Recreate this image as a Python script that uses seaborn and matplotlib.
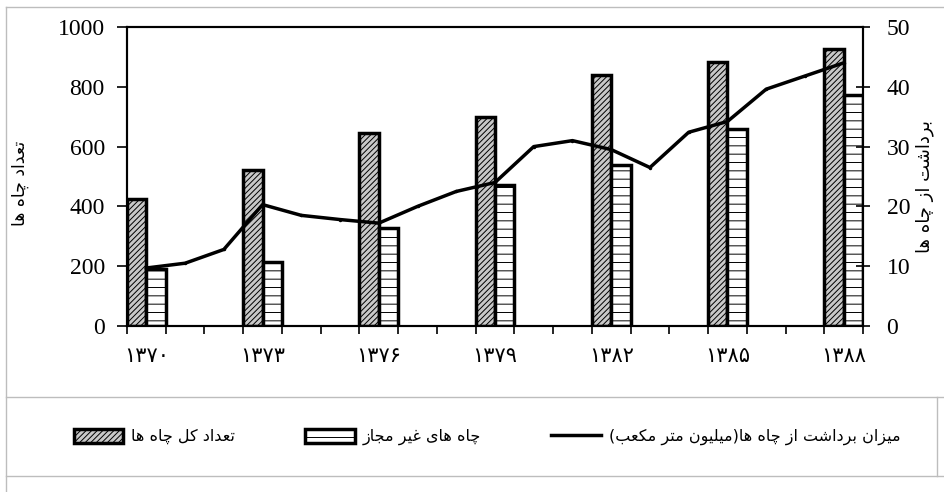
import numpy as np
import pandas as pd
import seaborn as sns
import matplotlib.pyplot as plt
from matplotlib.patches import Patch
from matplotlib.lines import Line2D

# data
years = list(range(1370, 1389))
bar_years = [1370, 1373, 1376, 1379, 1382, 1385, 1388]
total_wells = [425, 523, 645, 700, 838, 882, 928]
illegal_wells = [192, 215, 329, 470, 540, 660, 772]
withdrawal = [9.7, 10.5, 12.8, 20.3, 18.5, 17.8, 17.2, 20.0, 22.5, 24.0,
              30.0, 31.0, 29.5, 26.5, 32.4, 34.2, 39.6, 41.8, 44.0]

label_total = 'تعداد کل چاه ها'
label_illegal = 'چاه های غیر مجاز'
label_line = 'میزان برداشت از چاه ها(میلیون متر مکعب)'
ylabel_left = 'تعداد چاه ها'
ylabel_right = 'برداشت از چاه ها'

# matplotlib has no arabic shaping, so pick presentation forms by hand
FORMS = {
    'ا': ('\uFE8D', '\uFE8E', None, None), 'د': ('\uFEA9', '\uFEAA', None, None),
    'ر': ('\uFEAD', '\uFEAE', None, None), 'ز': ('\uFEAF', '\uFEB0', None, None),
    'و': ('\uFEED', '\uFEEE', None, None),
    'ب': ('\uFE8F', '\uFE90', '\uFE91', '\uFE92'), 'ت': ('\uFE95', '\uFE96', '\uFE97', '\uFE98'),
    'ج': ('\uFE9D', '\uFE9E', '\uFE9F', '\uFEA0'), 'چ': ('\uFB7A', '\uFB7B', '\uFB7C', '\uFB7D'),
    'ش': ('\uFEB5', '\uFEB6', '\uFEB7', '\uFEB8'), 'ع': ('\uFEC9', '\uFECA', '\uFECB', '\uFECC'),
    'غ': ('\uFECD', '\uFECE', '\uFECF', '\uFED0'), 'ک': ('\uFB8E', '\uFB8F', '\uFB90', '\uFB91'),
    'ل': ('\uFEDD', '\uFEDE', '\uFEDF', '\uFEE0'), 'م': ('\uFEE1', '\uFEE2', '\uFEE3', '\uFEE4'),
    'ن': ('\uFEE5', '\uFEE6', '\uFEE7', '\uFEE8'), 'ه': ('\uFEE9', '\uFEEA', '\uFEEB', '\uFEEC'),
    'ی': ('\uFBFC', '\uFBFD', '\uFBFE', '\uFBFF'),
}


def fa(text):
    out = []
    for i, ch in enumerate(text):
        if ch not in FORMS:
            out.append(ch)
            continue
        prev = text[i - 1] if i > 0 else ''
        nxt = text[i + 1] if i + 1 < len(text) else ''
        iso, fin, ini, med = FORMS[ch]
        jp = prev in FORMS and FORMS[prev][2] is not None
        jn = ini is not None and nxt in FORMS
        out.append(med if jp and jn else fin if jp else ini if jn else iso)
    return ''.join(reversed(out)).translate(str.maketrans('()', ')('))


def fa_digits(n):
    return str(n).translate(str.maketrans('0123456789', '۰۱۲۳۴۵۶۷۸۹'))


plt.rcParams['hatch.linewidth'] = 0.7
serif = ['Liberation Serif', 'DejaVu Sans']
persian = ['DejaVu Sans']

df = pd.DataFrame({
    'year': bar_years * 2,
    'count': total_wells + illegal_wells,
    'series': [label_total] * len(bar_years) + [label_illegal] * len(bar_years),
})

fig = plt.figure(figsize=(9.44, 4.92), dpi=100)
ax = fig.add_axes([127 / 944, 1 - 326 / 492, (863 - 127) / 944, (326 - 27) / 492])

sns.barplot(data=df, x='year', y='count', hue='series', order=years,
            width=1.0, gap=0, ax=ax, legend=False,
            edgecolor='black', linewidth=2.5, palette=['#c8c8c8', 'white'])
styles = [('#c8c8c8', '//////'), ('white', '--')]
for cont, (fc, hatch) in zip(ax.containers, styles):
    for bar in cont:
        bar.set_facecolor(fc)
        bar.set_hatch(hatch)

ax2 = ax.twinx()
sns.lineplot(x=np.arange(len(years)), y=withdrawal, ax=ax2, color='black',
             linewidth=2.5, marker='o', markersize=2.5, markeredgewidth=0)

ax.set_xlim(-0.5, len(years) - 0.5)
ax.set_ylim(0, 1000)
ax2.set_ylim(0, 50)

ax.set_xticks(np.arange(-0.5, len(years), 1))
ax.set_xticklabels([])
ax.tick_params(axis='x', which='major', length=6, width=1.2, direction='out')
ax.set_xticks([years.index(y) for y in bar_years], minor=True)
ax.set_xticklabels([fa_digits(y) for y in bar_years], minor=True,
                   fontfamily=serif, fontsize=15)
ax.tick_params(axis='x', which='minor', length=0, pad=16)

ax.set_yticks(range(0, 1001, 200))
ax.tick_params(axis='y', length=7, width=1.2, direction='out', pad=9, labelsize=17)
ax2.set_yticks(range(0, 51, 10))
ax2.tick_params(axis='y', length=10, width=1.2, direction='inout', pad=12, labelsize=17)
for lab in ax.get_yticklabels() + ax2.get_yticklabels():
    lab.set_fontfamily(serif)

ax.set_xlabel('')
ax.set_ylabel(fa(ylabel_left), fontfamily=persian, fontsize=12.5)
ax2.set_ylabel(fa(ylabel_right), fontfamily=persian, fontsize=13, rotation=90)
for a, x, y in [(ax, -0.146, 0.478), (ax2, 1.084, 0.468)]:
    a.yaxis.set_label_coords(x, y)
    lab = a.yaxis.label
    lab.set_rotation_mode('anchor')
    lab.set_horizontalalignment('center')
    lab.set_verticalalignment('center')

for a in (ax, ax2):
    for s in a.spines.values():
        s.set_linewidth(1.5)
        s.set_color('black')

# frame lines around the chart and the legend box
grey = '#bdbdbd'
for (x0, y0), (x1, y1) in [((6, 7), (944, 7)), ((6, 7), (6, 492)),
                           ((6, 397), (944, 397)), ((6, 476), (944, 476)),
                           ((937, 397), (937, 476))]:
    fig.add_artist(Line2D([x0 / 944, x1 / 944], [1 - y0 / 492, 1 - y1 / 492],
                          transform=fig.transFigure, color=grey, lw=1))

handles = [Patch(facecolor='#c8c8c8', edgecolor='black', hatch='//////', linewidth=2.5),
           Patch(facecolor='white', edgecolor='black', hatch='--', linewidth=2.5),
           Line2D([], [], color='black', linewidth=2.5)]
fig.legend(handles, [fa(label_total), fa(label_illegal), fa(label_line)],
           ncol=3, loc='center', bbox_to_anchor=(487 / 944, 1 - 437 / 492),
           frameon=False, prop={'family': persian, 'size': 11.5},
           handlelength=3.1, handleheight=1.0, handletextpad=0.5, columnspacing=4.4)

fig.savefig('out.png', dpi=100)
